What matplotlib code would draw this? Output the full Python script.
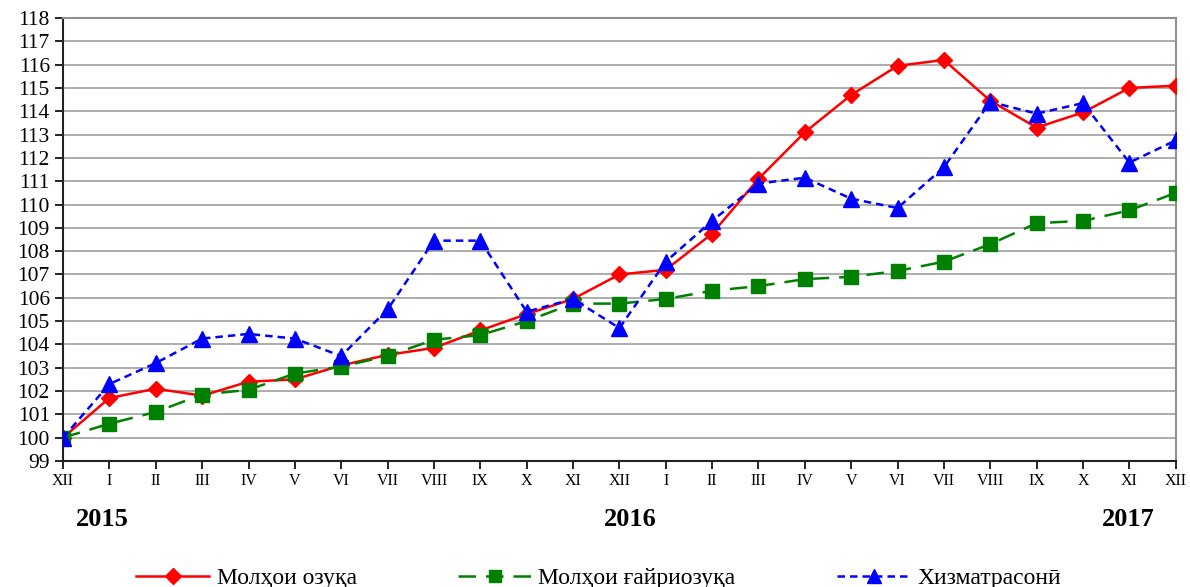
import matplotlib
matplotlib.use("Agg")
from matplotlib import pyplot as plt

# month labels (Dec 2015 .. Dec 2017)
months = ["XII", "I", "II", "III", "IV", "V", "VI", "VII", "VIII", "IX", "X", "XI",
          "XII", "I", "II", "III", "IV", "V", "VI", "VII", "VIII", "IX", "X", "XI", "XII"]

food = [100.0, 101.7, 102.1, 101.8, 102.4, 102.5, 103.1, 103.55, 103.85, 104.6, 105.3, 105.95,
        107.0, 107.2, 108.75, 111.1, 113.1, 114.7, 115.95, 116.2, 114.45, 113.3, 113.95, 115.0, 115.1]
nonfood = [100.0, 100.6, 101.1, 101.85, 102.05, 102.75, 103.05, 103.5, 104.2, 104.4, 105.0, 105.75,
           105.75, 105.95, 106.3, 106.5, 106.8, 106.9, 107.15, 107.55, 108.3, 109.2, 109.3, 109.75, 110.5]
services = [100.0, 102.3, 103.2, 104.25, 104.45, 104.25, 103.5, 105.5, 108.45, 108.45, 105.4, 105.95,
            104.7, 107.55, 109.3, 110.9, 111.15, 110.25, 109.85, 111.6, 114.4, 113.9, 114.35, 111.8, 112.75]

labels = ["Молҳои озуқа", "Молҳои ғайриозуқа", "Хизматрасонӣ"]
years = ["2015", "2016", "2017"]

plt.rcParams['font.family'] = ['Liberation Serif', 'DejaVu Serif']

fig = plt.figure(figsize=(11.9, 5.87), dpi=100)
ax = fig.add_axes([0.053, 0.2147, 0.935, 0.7546])

x = list(range(len(months)))
ax.plot(x, food, color='#ff0000', lw=1.8, marker='D', ms=8.5, label=labels[0], zorder=3)
ax.plot(x, nonfood, color='#008000', lw=1.8, ls=(0, (7, 4)), marker='s', ms=10,
        label=labels[1], zorder=3)
ax.plot(x, services, color='#0000ff', lw=1.8, ls=(0, (3, 2)), marker='^', ms=11.5,
        label=labels[2], zorder=3)

ax.set_xlim(0, len(months) - 1)
ax.set_ylim(99, 118)
ax.set_yticks(range(99, 119))
ax.set_xticks(x)
ax.set_xticklabels(months, fontsize=11.5)
ax.tick_params(axis='y', labelsize=15.5, length=6, direction='out', width=1.2)
ax.tick_params(axis='x', length=6, direction='out', width=1.2, pad=3)
ax.yaxis.grid(True, color='#a6a6a6', lw=1.3)
ax.set_axisbelow(True)
for s in ['left', 'bottom']:
    ax.spines[s].set_color('#222222')
    ax.spines[s].set_linewidth(1.5)
for s in ['top', 'right']:
    ax.spines[s].set_color('#909090')
    ax.spines[s].set_linewidth(1.5)

fig.text(102 / 1190, 1 - 519 / 587, years[0], fontsize=19, fontweight='bold', ha='center', va='center')
fig.text(630 / 1190, 1 - 519 / 587, years[1], fontsize=19, fontweight='bold', ha='center', va='center')
fig.text(1128 / 1190, 1 - 519 / 587, years[2], fontsize=19, fontweight='bold', ha='center', va='center')

fig.legend(loc='center', bbox_to_anchor=(0.503, 1 - 578 / 587), ncol=3, frameon=False,
           fontsize=17, handlelength=3.1, columnspacing=4.3, handletextpad=0.3,
           borderpad=0, markerscale=0.9)

fig.savefig("out.png", dpi=100)
